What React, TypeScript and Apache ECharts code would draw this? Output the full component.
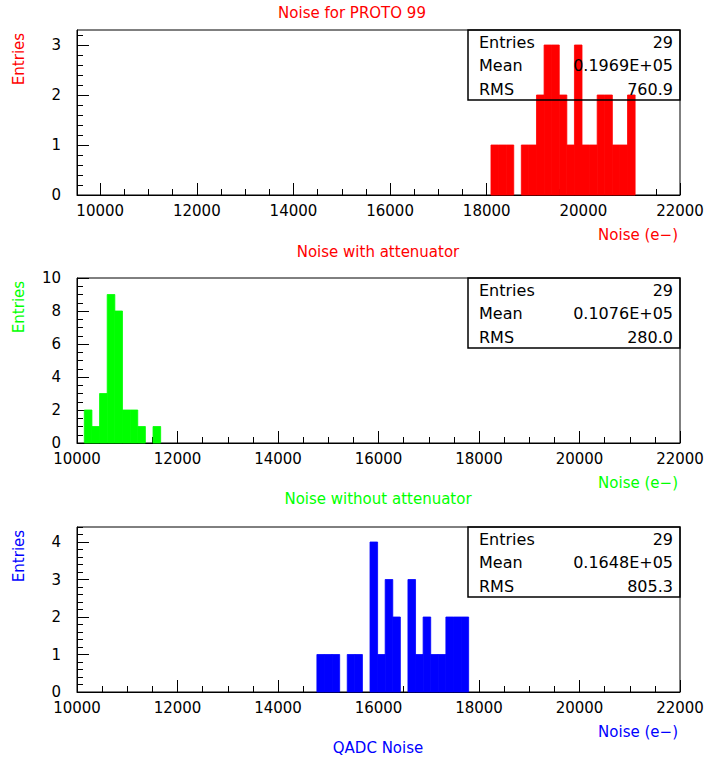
import React, { useEffect, useRef } from 'react';
import * as echarts from 'echarts';

// ---- data ----
const xMax = 22000;
const xMin1 = 9520;
const xMin23 = 10000;
const xTickLabels = [10000, 12000, 14000, 16000, 18000, 20000, 22000];

// histogram 1: Noise with attenuator (red)
const counts1 = [1, 1, 1, 0, 1, 1, 2, 3, 3, 2, 1, 3, 1, 1, 2, 2, 1, 1, 2];
const binStart1 = 18088;
const binWidth1 = 157;
const yTicks1 = [0, 1, 2, 3];
const yMax1 = 3.3;
const stats1 = ['29', '0.1969E+05', '760.9'];

// histogram 2: Noise without attenuator (green)
const counts2 = [2, 1, 3, 9, 8, 2, 2, 1, 0, 1];
const binStart2 = 10145;
const binWidth2 = 152;
const yTicks2 = [0, 2, 4, 6, 8, 10];
const yMax2 = 10;
const stats2 = ['29', '0.1076E+05', '280.0'];

// histogram 3: QADC Noise (blue)
const counts3 = [1, 1, 1, 0, 1, 1, 0, 4, 1, 3, 2, 0, 3, 1, 2, 1, 1, 2, 2, 2];
const binStart3 = 14774;
const binWidth3 = 151;
const yTicks3 = [0, 1, 2, 3, 4];
const yMax3 = 4.4;
const stats3 = ['29', '0.1648E+05', '805.3'];

const statLabels = ['Entries', 'Mean', 'RMS'];

const FONT = 'DejaVu Sans';

function steps(from: number, to: number, step: number): number[] {
  const out: number[] = [];
  const n = Math.round((to - from) / step);
  for (let i = 0; i <= n; i++) out.push(Math.round((from + i * step) * 1000) / 1000);
  return out;
}

function histData(start: number, width: number, counts: number[]) {
  return counts.map((c, i) => [start + i * width, start + (i + 1) * width, c]);
}

export default function App() {
  const ref = useRef<HTMLDivElement>(null);

  useEffect(() => {
    if (!ref.current) return;
    const chart = echarts.init(ref.current, undefined, { renderer: 'svg' });

    const panels = [
      { top: 30, xMin: xMin1, yMax: yMax1, yTicks: yTicks1, yMinorStep: 0.2, color: '#ff0000', data: histData(binStart1, binWidth1, counts1), stats: stats1 },
      { top: 278, xMin: xMin23, yMax: yMax2, yTicks: yTicks2, yMinorStep: 0.5, color: '#00ff00', data: histData(binStart2, binWidth2, counts2), stats: stats2 },
      { top: 527, xMin: xMin23, yMax: yMax3, yTicks: yTicks3, yMinorStep: 0.2, color: '#0000ff', data: histData(binStart3, binWidth3, counts3), stats: stats3 },
    ];

    const grids: any[] = [];
    const xAxes: any[] = [];
    const yAxes: any[] = [];
    const series: any[] = [];
    const graphics: any[] = [];

    const xMinor = steps(10000, 22000, 500);
    const plain = (v: number) => String(v);

    panels.forEach((p, i) => {
      grids.push({
        left: 77, top: p.top, width: 603, height: 165,
        show: true, borderColor: '#000', borderWidth: 1, backgroundColor: 'transparent',
        containLabel: false,
      });
      // main x axis
      xAxes.push({
        type: 'value', gridIndex: i, min: p.xMin, max: xMax, position: 'bottom',
        axisLine: { show: true, lineStyle: { color: '#000', width: 1 } },
        axisTick: { show: true, inside: true, length: 12, customValues: xTickLabels, lineStyle: { color: '#000' } },
        axisLabel: { show: true, customValues: xTickLabels, formatter: plain, margin: 9, lineHeight: 14, fontFamily: FONT, fontSize: 15, color: '#000' },
        splitLine: { show: false },
      });
      // minor x ticks
      xAxes.push({
        type: 'value', gridIndex: i, min: p.xMin, max: xMax, position: 'bottom',
        axisLine: { show: false },
        axisTick: { show: true, inside: true, length: 6, customValues: xMinor, lineStyle: { color: '#000' } },
        axisLabel: { show: false, customValues: xMinor },
        splitLine: { show: false },
      });
      yAxes.push({
        type: 'value', gridIndex: i, min: 0, max: p.yMax, position: 'left',
        axisLine: { show: true, lineStyle: { color: '#000', width: 1 } },
        axisTick: { show: true, inside: true, length: 12, customValues: p.yTicks, lineStyle: { color: '#000' } },
        axisLabel: { show: true, customValues: p.yTicks, formatter: plain, margin: 16, lineHeight: 13, fontFamily: FONT, fontSize: 15, color: '#000' },
        splitLine: { show: false },
      });
      const yMinor = steps(0, Math.floor(p.yMax / p.yMinorStep) * p.yMinorStep, p.yMinorStep);
      yAxes.push({
        type: 'value', gridIndex: i, min: 0, max: p.yMax, position: 'left',
        axisLine: { show: false },
        axisTick: { show: true, inside: true, length: 6, customValues: yMinor, lineStyle: { color: '#000' } },
        axisLabel: { show: false, customValues: yMinor },
        splitLine: { show: false },
      });
      series.push({
        type: 'custom',
        xAxisIndex: i * 2,
        yAxisIndex: i * 2,
        data: p.data,
        encode: { x: [0, 1], y: 2 },
        z: 1,
        renderItem: (params: any, api: any) => {
          const c = api.value(2);
          if (!c) return null;
          const p0 = api.coord([api.value(0), c]);
          const p1 = api.coord([api.value(1), 0]);
          return {
            type: 'rect',
            shape: { x: p0[0], y: p0[1], width: p1[0] - p0[0], height: p1[1] - p0[1] },
            style: { fill: p.color, stroke: p.color, lineWidth: 0.8 },
          };
        },
      });

      // stats box
      const bx = 468, bw = 212, bh = 70;
      graphics.push({
        type: 'rect', shape: { x: bx, y: p.top, width: bw, height: bh },
        style: { fill: 'none', stroke: '#000', lineWidth: 1.5 }, z: 100,
      });
      const rowsY = [12.5, 35.5, 59];
      statLabels.forEach((lab, k) => {
        graphics.push({
          type: 'text', x: 479, y: p.top + rowsY[k], z: 101,
          style: { text: lab, fill: '#000', fontFamily: FONT, fontSize: 16, align: 'left', verticalAlign: 'middle' },
        });
        graphics.push({
          type: 'text', x: 673, y: p.top + rowsY[k], z: 101,
          style: { text: p.stats[k], fill: '#000', fontFamily: FONT, fontSize: 16, align: 'right', verticalAlign: 'middle' },
        });
      });
      // y axis title
      graphics.push({
        type: 'text', x: 19, y: p.top + 29, rotation: Math.PI / 2, z: 101,
        style: { text: 'Entries', fill: p.color, fontFamily: FONT, fontSize: 15, align: 'center', verticalAlign: 'middle' },
      });
      // x axis title
      graphics.push({
        type: 'text', x: 678, y: p.top + 205, z: 101,
        style: { text: 'Noise (e\u2212)', fill: p.color, fontFamily: FONT, fontSize: 15, align: 'right', verticalAlign: 'middle' },
      });
    });

    const titles = [
      { text: 'Noise for PROTO 99', x: 352, y: 13, color: '#ff0000' },
      { text: 'Noise with attenuator', x: 378, y: 252, color: '#ff0000' },
      { text: 'Noise without attenuator', x: 378, y: 499, color: '#00ff00' },
      { text: 'QADC Noise', x: 378, y: 748, color: '#0000ff' },
    ];
    titles.forEach((t) => {
      graphics.push({
        type: 'text', x: t.x, y: t.y, z: 101,
        style: { text: t.text, fill: t.color, fontFamily: FONT, fontSize: 15, align: 'center', verticalAlign: 'middle' },
      });
    });

    chart.setOption({
      animation: false,
      backgroundColor: '#fff',
      grid: grids,
      xAxis: xAxes,
      yAxis: yAxes,
      series,
      graphic: graphics,
    });

    return () => chart.dispose();
  }, []);

  return <div ref={ref} style={{ position: 'fixed', left: 0, top: 0, width: 707, height: 761 }} />;
}
